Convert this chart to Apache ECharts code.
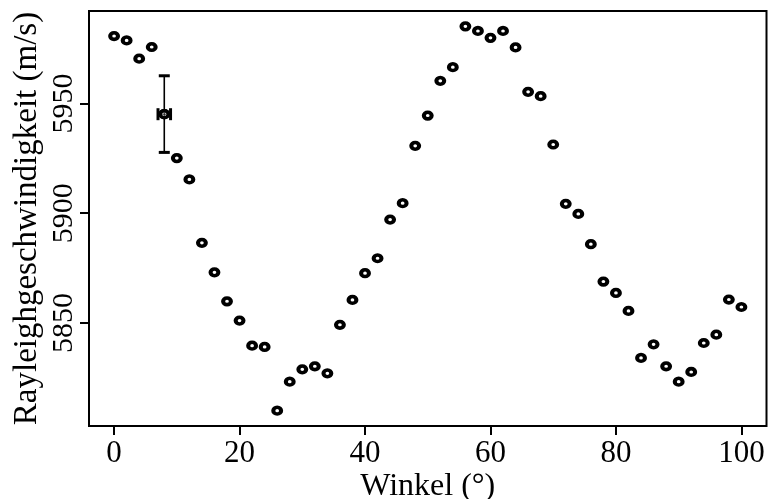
<!DOCTYPE html>
<html>
<head>
<meta charset="utf-8">
<script src="https://cdn.jsdelivr.net/npm/echarts@6/dist/echarts.min.js"></script>
<style>
  html, body { margin: 0; padding: 0; background: #fff; }
  #chart { width: 768px; height: 499px; }
</style>
</head>
<body>
<div id="chart"></div>
<script>
// Measured Rayleigh wave speed against rotation angle
const angles = [0, 2, 4, 6, 8, 10, 12, 14, 16, 18, 20, 22, 24, 26, 28, 30, 32, 34, 36, 38, 40,
  42, 44, 46, 48, 50, 52, 54, 56, 58, 60, 62, 64, 66, 68, 70, 72, 74, 76, 78, 80,
  82, 84, 86, 88, 90, 92, 94, 96, 98, 100];
const speeds = [5980.7, 5978.7, 5970.4, 5975.7, 5945.1, 5925.1, 5915.4, 5886.5, 5873.1, 5859.9, 5851.1,
  5839.7, 5839.1, 5810.1, 5823.3, 5828.9, 5830.3, 5827.1, 5849.2, 5860.5, 5872.7,
  5879.5, 5897.1, 5904.6, 5930.7, 5944.5, 5960.3, 5966.5, 5985.1, 5983.0, 5979.9,
  5983.0, 5975.5, 5955.3, 5953.3, 5931.3, 5904.3, 5899.7, 5885.9, 5868.9, 5863.7,
  5855.5, 5834.1, 5840.3, 5830.3, 5823.3, 5827.7, 5840.9, 5844.7, 5860.7, 5857.3];

// Single point with its uncertainty in both directions
const errAngle = [8];
const errSpeed = [5945.1];
const errAngleLow = [7];
const errAngleHigh = [9];
const errSpeedLow = [5927.7];
const errSpeedHigh = [5962.6];

const xTicks = [0, 20, 40, 60, 80, 100];
const yTicks = [5850, 5900, 5950];

const xTitle = 'Winkel (°)';
const yTitle = 'Rayleighgeschwindigkeit (m/s)';

const FONT = '"Liberation Serif", "DejaVu Serif", serif';

const points = angles.map((a, i) => [a, speeds[i]]);
const errData = errAngle.map((a, i) => [a, errSpeed[i], errAngleLow[i], errAngleHigh[i], errSpeedLow[i], errSpeedHigh[i]]);

function renderErr(params, api) {
  const c = api.coord([api.value(0), api.value(1)]);
  const xl = api.coord([api.value(2), api.value(1)]);
  const xh = api.coord([api.value(3), api.value(1)]);
  const yl = api.coord([api.value(0), api.value(4)]);
  const yh = api.coord([api.value(0), api.value(5)]);
  const cap = 5.5;
  const vcap = 6;
  const thin = { stroke: '#000', lineWidth: 1.6 };
  const thick = { stroke: '#000', lineWidth: 3 };
  return {
    type: 'group',
    children: [
      { type: 'line', shape: { x1: yl[0], y1: yl[1], x2: yh[0], y2: yh[1] }, style: thin },
      { type: 'line', shape: { x1: yl[0] - cap, y1: yl[1], x2: yl[0] + cap, y2: yl[1] }, style: thick },
      { type: 'line', shape: { x1: yh[0] - cap, y1: yh[1], x2: yh[0] + cap, y2: yh[1] }, style: thick },
      { type: 'line', shape: { x1: xl[0], y1: xl[1], x2: xh[0], y2: xh[1] }, style: thin },
      { type: 'line', shape: { x1: xl[0], y1: xl[1] - vcap, x2: xl[0], y2: xl[1] + vcap }, style: thick },
      { type: 'line', shape: { x1: xh[0], y1: xh[1] - vcap, x2: xh[0], y2: xh[1] + vcap }, style: thick },
      { type: 'ellipse', shape: { cx: c[0], cy: c[1], rx: 4, ry: 3.5 },
        style: { fill: '#fff', stroke: '#000', lineWidth: 3.6 } },
      { type: 'line', shape: { x1: c[0] - 2, y1: c[1], x2: c[0] + 2, y2: c[1] }, style: { stroke: '#000', lineWidth: 0.8 } },
      { type: 'line', shape: { x1: c[0], y1: c[1] - 2, x2: c[0], y2: c[1] + 2 }, style: { stroke: '#000', lineWidth: 0.8 } }
    ]
  };
}

const chart = echarts.init(document.getElementById('chart'), null, { renderer: 'canvas' });
chart.setOption({
  backgroundColor: '#fff',
  animation: false,
  grid: {
    left: 89, right: 1.5, top: 11, bottom: 73,
    containLabel: false,
    outerBoundsMode: 'none',
    show: true, borderColor: '#000', borderWidth: 2, backgroundColor: 'transparent'
  },
  xAxis: {
    type: 'value',
    min: -4, max: 104,
    name: xTitle,
    nameLocation: 'middle',
    nameGap: 45,
    nameMoveOverlap: false,
    nameTextStyle: { fontFamily: FONT, fontSize: 32, color: '#000' },
    axisLine: { show: false, onZero: false },
    splitLine: { show: false },
    axisTick: { show: true, length: 9, inside: false, customValues: xTicks, lineStyle: { color: '#000', width: 2 } },
    axisLabel: { customValues: xTicks, margin: 12, fontFamily: FONT, fontSize: 31, color: '#000',
      formatter: v => String(v) }
  },
  yAxis: {
    type: 'value',
    min: 5803.1, max: 5992.1,
    name: yTitle,
    nameLocation: 'middle',
    nameGap: 45,
    nameRotate: 90,
    nameMoveOverlap: false,
    nameTextStyle: { fontFamily: FONT, fontSize: 33, color: '#000' },
    axisLine: { show: false, onZero: false },
    splitLine: { show: false },
    axisTick: { show: true, length: 9, inside: false, customValues: yTicks, lineStyle: { color: '#000', width: 2 } },
    axisLabel: { customValues: yTicks, rotate: 90, margin: 10, fontFamily: FONT, fontSize: 30, color: '#000',
      formatter: v => String(v) }
  },
  series: [
    {
      type: 'scatter',
      data: points,
      symbol: 'circle',
      symbolSize: [7.8, 6.7],
      itemStyle: { color: '#fff', borderColor: '#000', borderWidth: 3.8, opacity: 1 },
      emphasis: { disabled: true },
      z: 2
    },
    {
      type: 'custom',
      data: errData,
      renderItem: renderErr,
      encode: { x: 0, y: 1 },
      z: 3
    }
  ]
});
</script>
</body>
</html>
